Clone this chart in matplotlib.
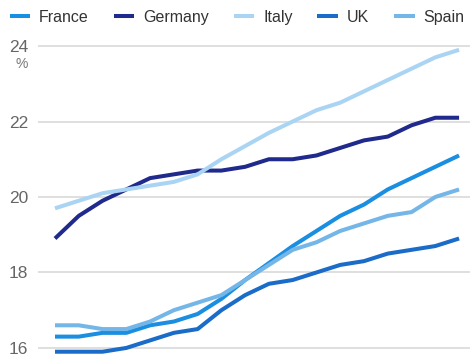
import matplotlib
matplotlib.use("Agg")
import matplotlib.pyplot as plt
from matplotlib import font_manager

# ── data (one value per year) ────────────────────────────────────────────────
YEARS = list(range(2005, 2023))
FRANCE  = [16.3, 16.3, 16.4, 16.4, 16.6, 16.7, 16.9, 17.3, 17.8, 18.25, 18.7, 19.1,
           19.5, 19.8, 20.2, 20.5, 20.8, 21.1]
GERMANY = [18.9, 19.5, 19.9, 20.2, 20.5, 20.6, 20.7, 20.7, 20.8, 21.0, 21.0, 21.1,
           21.3, 21.5, 21.6, 21.9, 22.1, 22.1]
ITALY   = [19.7, 19.9, 20.1, 20.2, 20.3, 20.4, 20.6, 21.0, 21.35, 21.7, 22.0, 22.3,
           22.5, 22.8, 23.1, 23.4, 23.7, 23.9]
UK      = [15.9, 15.9, 15.9, 16.0, 16.2, 16.4, 16.5, 17.0, 17.4, 17.7, 17.8, 18.0,
           18.2, 18.3, 18.5, 18.6, 18.7, 18.9]
SPAIN   = [16.6, 16.6, 16.5, 16.5, 16.7, 17.0, 17.2, 17.4, 17.8, 18.2, 18.6, 18.8,
           19.1, 19.3, 19.5, 19.6, 20.0, 20.2]
SERIES = ["France", "Germany", "Italy", "UK", "Spain"]
YTICKS = [16, 18, 20, 22, 24]

COLORS = {"France": "#1a8ee0", "Germany": "#1f2a8c", "Italy": "#aad4f3",
          "UK": "#1a6cc8", "Spain": "#74b6e8"}

avail = {f.name for f in font_manager.fontManager.ttflist}
TICK_FONT = "Liberation Sans Narrow" if "Liberation Sans Narrow" in avail else "Liberation Sans"
plt.rcParams["font.family"] = ["Liberation Sans", "DejaVu Sans"]

fig = plt.figure(figsize=(4.7, 3.57), dpi=100)
ax = fig.add_axes([38 / 470, 0.0, 1 - 38 / 470, 317 / 357])

data = {"France": FRANCE, "Germany": GERMANY, "Italy": ITALY, "UK": UK, "Spain": SPAIN}
for name in SERIES:
    ax.plot(YEARS, data[name], color=COLORS[name], lw=2.9, label=name,
            solid_capstyle="butt", solid_joinstyle="round")

ax.set_xlim(YEARS[0] - 0.715, YEARS[-1] + 0.46)
ax.set_ylim(15.76, 24.16)
ax.set_yticks(YTICKS)
ax.set_xticks([])
ax.grid(axis="y", color="#dcdcdc", lw=1.3)
ax.set_axisbelow(True)
for sp in ax.spines.values():
    sp.set_visible(False)
ax.tick_params(axis="y", length=0, pad=7, labelsize=12.5, labelcolor="#666666")
for lab in ax.get_yticklabels():
    lab.set_family(TICK_FONT)
ax.annotate("%", xy=(0, 24), xycoords=("axes fraction", "data"),
            xytext=(-16, -18), textcoords="offset pixels", ha="center", va="center",
            fontsize=10, color="#777777", family=TICK_FONT)

fig.legend(loc="upper left", bbox_to_anchor=(0.0, 1.0), ncol=5, frameon=False,
           fontsize=11.5, handlelength=1.3, handletextpad=0.55, columnspacing=1.55,
           borderaxespad=0.2, labelcolor="#333333")

fig.savefig("out.png", dpi=100)
